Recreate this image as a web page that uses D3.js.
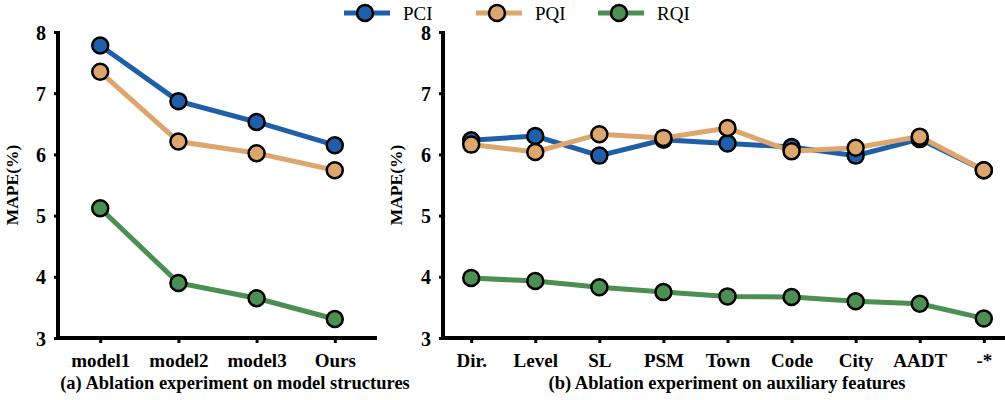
<!DOCTYPE html>
<html><head><meta charset="utf-8">
<script src="https://cdn.jsdelivr.net/npm/d3@7"></script>
<style>
body{margin:0;background:#fff;}
svg text{font-family:'Liberation Serif',serif;}
</style></head>
<body>
<svg id="c" width="1005" height="400"></svg>
<script>
const seriesNames = ["PCI", "PQI", "RQI"];
const seriesColors = ["#1f5fa9", "#dca66c", "#4b8f52"];
const yTicks = [3, 4, 5, 6, 7, 8];

const catsA = ["model1", "model2", "model3", "Ours"];
const pciA = [7.78, 6.87, 6.53, 6.15];
const pqiA = [7.35, 6.21, 6.02, 5.74];
const rqiA = [5.12, 3.90, 3.65, 3.31];

const catsB = ["Dir.", "Level", "SL", "PSM", "Town", "Code", "City", "AADT", "-*"];
const pciB = [6.23, 6.30, 5.98, 6.24, 6.18, 6.12, 5.98, 6.25, 5.74];
const pqiB = [6.16, 6.04, 6.33, 6.27, 6.43, 6.05, 6.11, 6.29, 5.74];
const rqiB = [3.98, 3.93, 3.83, 3.75, 3.68, 3.67, 3.60, 3.56, 3.32];

const captions = ["(a) Ablation experiment on model structures", "(b) Ablation experiment on auxiliary features"];
const yLabel = "MAPE(%)";
const FONT = "Liberation Serif";

const svg = d3.select("#c");
const y = d3.scaleLinear().domain([3, 8]).range([338, 32]);

function panel(cats, data, x0, x1, pad, titleX, capX, caption) {
  const x = d3.scalePoint().domain(cats).range([x0, x1]).padding(pad);
  const g = svg.append("g");
  const ya = g.append("g").attr("transform", `translate(${x0},0)`)
    .call(d3.axisLeft(y).tickValues(yTicks).tickFormat(d3.format("d")).tickSize(4).tickSizeOuter(0).tickPadding(8));
  const xa = g.append("g").attr("transform", `translate(0,${y(3)})`)
    .call(d3.axisBottom(x).tickSize(5).tickSizeOuter(0).tickPadding(11));
  [ya, xa].forEach(a => {
    a.attr("font-family", FONT);
    a.select(".domain").attr("stroke", "#000").attr("stroke-width", 4);
    a.selectAll(".tick line").attr("stroke", "#000").attr("stroke-width", 3);
    a.selectAll("text").attr("font-family", FONT)
      .attr("font-weight", "bold").attr("font-size", 19).attr("fill", "#000");
  });
  ya.selectAll("text").attr("font-size", 20);
  ya.select(".domain").attr("d", `M0,${y(8)-1}V${y(3)+2}`);
  xa.select(".domain").attr("d", `M${x0-2},0H${x1}`);
  ya.selectAll(".tick text").attr("dy", "0.35em");
  xa.selectAll(".tick text").attr("dy", "0.71em");

  g.append("text").attr("transform", `translate(${titleX},${(y(8)+y(3))/2}) rotate(-90)`)
    .attr("text-anchor", "middle").attr("font-family", FONT).attr("font-weight", "bold")
    .attr("font-size", 17.5).text(yLabel);
  g.append("text").attr("x", capX).attr("y", 389).attr("text-anchor", "middle")
    .attr("font-family", FONT).attr("font-weight", "bold").attr("font-size", 18.5).text(caption);

  const line = d3.line().x((d, i) => x(cats[i])).y(d => y(d));
  data.forEach((vals, s) => {
    g.append("path").datum(vals).attr("d", line).attr("fill", "none")
      .attr("stroke", seriesColors[s]).attr("stroke-width", 5);
  });
  data.forEach((vals, s) => {
    g.selectAll(null).data(vals).enter().append("circle")
      .attr("cx", (d, i) => x(cats[i])).attr("cy", d => y(d)).attr("r", 8)
      .attr("fill", seriesColors[s]).attr("stroke", "#000").attr("stroke-width", 2.5);
  });
}

panel(catsA, [pciA, pqiA, rqiA], 58, 377, 0.54, 18, 235, captions[0]);
panel(catsB, [pciB, pqiB, rqiB], 443, 1012, 0.44, 402, 727, captions[1]);

const legendX = [344, 476, 598];
const lg = svg.append("g");
seriesNames.forEach((n, i) => {
  const gx = legendX[i];
  lg.append("line").attr("x1", gx).attr("x2", gx + 46).attr("y1", 13).attr("y2", 13)
    .attr("stroke", seriesColors[i]).attr("stroke-width", 5);
  lg.append("circle").attr("cx", gx + 21).attr("cy", 13).attr("r", 8)
    .attr("fill", seriesColors[i]).attr("stroke", "#000").attr("stroke-width", 2.5);
  lg.append("text").attr("x", gx + 59).attr("y", 13).attr("dy", "0.35em")
    .attr("font-family", FONT).attr("font-size", 19).text(n);
});
</script>
</body></html>
